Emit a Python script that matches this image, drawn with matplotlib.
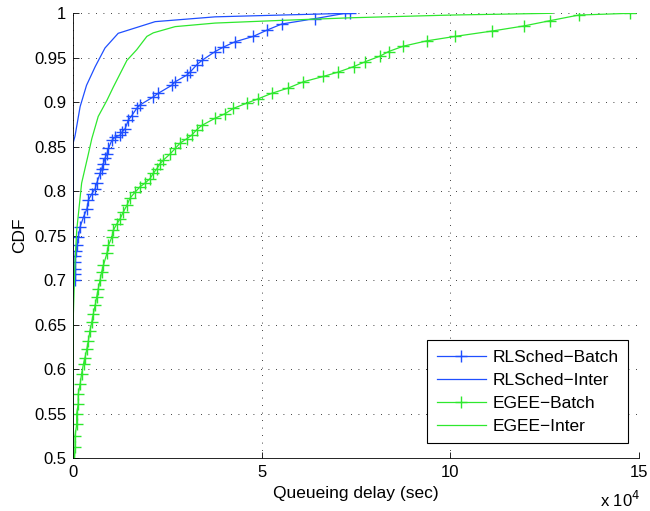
import matplotlib.pyplot as plt

plt.rcParams['font.family'] = ['Liberation Sans', 'DejaVu Sans']

# queueing delay in units of 1e4 sec, CDF values
rl_batch_x = [0.04, 0.04, 0.045, 0.05, 0.05, 0.06, 0.09, 0.13, 0.18, 0.27, 0.36, 0.40, 0.49, 0.58,
              0.62, 0.71, 0.75, 0.80, 0.84, 0.89, 0.93, 1.02, 1.11, 1.24, 1.28, 1.37, 1.46, 1.55,
              1.68, 1.77, 2.12, 2.25, 2.61, 2.70, 3.01, 3.10, 3.27, 3.41, 3.76, 3.98, 4.29, 4.77,
              5.13, 5.53, 6.41, 7.21, 7.34]
rl_batch_y = [0.700, 0.707, 0.713, 0.720, 0.727, 0.733, 0.739, 0.748, 0.760, 0.771, 0.780, 0.790,
              0.797, 0.803, 0.809, 0.820, 0.825, 0.831, 0.837, 0.842, 0.848, 0.857, 0.861, 0.863,
              0.866, 0.870, 0.880, 0.885, 0.893, 0.897, 0.906, 0.910, 0.919, 0.923, 0.9305, 0.934,
              0.942, 0.947, 0.957, 0.962, 0.968, 0.974, 0.981, 0.988, 0.994, 1.0, 1.0]

rl_inter_x = [0, 0, 0.045, 0.18, 0.35, 0.58, 0.84, 1.19, 2.17, 3.76, 5.5, 7.3]
rl_inter_y = [0.0, 0.855, 0.862, 0.895, 0.919, 0.940, 0.961, 0.9775, 0.9906, 0.996, 0.998, 1.0]

egee_batch_x = [0.0, 0.03, 0.045, 0.045, 0.09, 0.09, 0.13, 0.13, 0.18, 0.22, 0.27, 0.31, 0.36,
                0.40, 0.44, 0.49, 0.53, 0.58, 0.62, 0.66, 0.71, 0.75, 0.80, 0.89, 0.93, 1.02,
                1.06, 1.15, 1.24, 1.33, 1.42, 1.50, 1.64, 1.77, 1.90, 2.03, 2.12, 2.21, 2.30,
                2.39, 2.57, 2.70, 2.83, 3.01, 3.14, 3.27, 3.41, 3.76, 4.02, 4.24, 4.60, 4.91,
                5.26, 5.70, 6.10, 6.63, 7.03, 7.43, 7.74, 8.14, 8.36, 8.75, 9.37, 10.12, 11.10,
                11.94, 12.64, 13.40, 14.77]
egee_batch_y = [0.485, 0.499, 0.512, 0.525, 0.538, 0.550, 0.561, 0.572, 0.583, 0.595, 0.606,
                0.613, 0.623, 0.632, 0.643, 0.653, 0.662, 0.672, 0.681, 0.690, 0.700, 0.709,
                0.717, 0.730, 0.739, 0.748, 0.756, 0.763, 0.769, 0.777, 0.784, 0.792, 0.799,
                0.805, 0.809, 0.814, 0.820, 0.825, 0.831, 0.835, 0.842, 0.848, 0.854, 0.859,
                0.863, 0.869, 0.874, 0.882, 0.887, 0.893, 0.899, 0.904, 0.910, 0.916, 0.923,
                0.929, 0.934, 0.940, 0.9455, 0.952, 0.957, 0.963, 0.969, 0.974, 0.980, 0.9857,
                0.9917, 0.998, 1.0]

egee_inter_x = [0, 0, 0.04, 0.09, 0.22, 0.40, 0.49, 0.66, 0.89, 1.06, 1.24, 1.42, 1.68, 1.95,
                2.12, 2.70, 3.76, 5.5, 7.4, 10.0, 12.7]
egee_inter_y = [0.0, 0.66, 0.715, 0.756, 0.809, 0.842, 0.859, 0.884, 0.902, 0.917, 0.932, 0.947,
                0.959, 0.974, 0.978, 0.985, 0.989, 0.992, 0.995, 0.998, 1.0]

blue = '#1f4fff'
green = '#2ee82e'

fig = plt.figure(figsize=(6.5, 5.11), dpi=100)
ax = fig.add_axes([0.1128, 0.1037, 0.8703, 0.8703])

ax.plot(rl_batch_x, rl_batch_y, color=blue, lw=0.9, marker='+', ms=8, mew=1.0,
        label='RLSched\u2212Batch')
ax.plot(rl_inter_x, rl_inter_y, color=blue, lw=0.9, label='RLSched\u2212Inter')
ax.plot(egee_batch_x, egee_batch_y, color=green, lw=0.9, marker='+', ms=8, mew=1.0,
        label='EGEE\u2212Batch')
ax.plot(egee_inter_x, egee_inter_y, color=green, lw=0.9, label='EGEE\u2212Inter')

ax.set_xlim(0, 15)
ax.set_ylim(0.5, 1.0)
ax.set_xticks([0, 5, 10, 15])
ax.set_xticklabels(['0', '5', '10', '15'])
yt = [0.5, 0.55, 0.6, 0.65, 0.7, 0.75, 0.8, 0.85, 0.9, 0.95, 1.0]
ax.set_yticks(yt)
ax.set_yticklabels(['0.5', '0.55', '0.6', '0.65', '0.7', '0.75', '0.8', '0.85', '0.9', '0.95', '1'])
ax.tick_params(direction='in', labelsize=12, length=4, width=0.6, pad=5)
ax.grid(True, linestyle=(0, (1, 8)), color='black', linewidth=0.6)
ax.spines['top'].set_visible(False)
ax.spines['right'].set_visible(False)
for s in ax.spines.values():
    s.set_linewidth(0.6)

ax.set_xlabel('Queueing delay (sec)', fontsize=12.5, labelpad=4)
ax.set_ylabel('CDF', fontsize=12.5, labelpad=5)
fig.text(0.985, 0.008, r'x 10$^4$', fontsize=12, ha='right', va='baseline')

leg = ax.legend(loc='lower right', bbox_to_anchor=(0.981, 0.033), borderaxespad=0,
                fontsize=12.5, fancybox=False, framealpha=1, edgecolor='black',
                handlelength=2.8, handletextpad=0.4, labelspacing=0.45, borderpad=0.55)
leg.get_frame().set_linewidth(0.8)

fig.savefig('out.png', dpi=100)
